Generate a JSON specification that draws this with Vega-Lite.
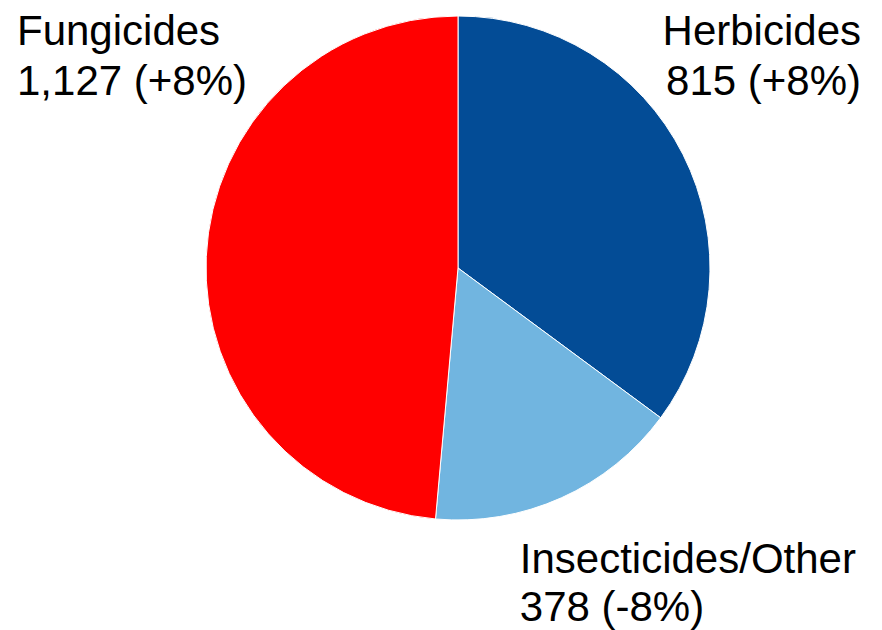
{
  "$schema": "https://vega.github.io/schema/vega-lite/v6.json",
  "width": 848,
  "height": 536,
  "autosize": {"type": "none"},
  "padding": {"left": 34, "top": 0, "right": 0, "bottom": 94},
  "background": "white",
  "data": {
    "values": [
      {"name": "Herbicides", "value": 815, "rank": 1, "label": "Herbicides\n815 (+8%)"},
      {"name": "Insecticides/Other", "value": 378, "rank": 2, "label": "Insecticides/Other\n378 (-8%)"},
      {"name": "Fungicides", "value": 1127, "rank": 3, "label": "Fungicides\n1,127 (+8%)"}
    ]
  },
  "transform": [
    {"stack": "value", "groupby": [], "sort": [{"field": "rank", "order": "ascending"}], "as": ["v0", "v1"]}
  ],
  "layer": [
    {
      "mark": {"type": "arc", "outerRadius": 252, "stroke": "white", "strokeWidth": 1},
      "encoding": {
        "theta": {"field": "v0", "type": "quantitative", "stack": null, "scale": {"domain": [0, 2320]}},
        "theta2": {"field": "v1"},
        "color": {
          "field": "name",
          "type": "nominal",
          "scale": {"domain": ["Herbicides", "Insecticides/Other", "Fungicides"], "range": ["#034C96", "#71B5E0", "#FF0000"]},
          "legend": null
        }
      }
    },
    {
      "transform": [{"filter": "datum.name === 'Herbicides'"}],
      "mark": {"type": "text", "radius": 223, "align": "right", "baseline": "alphabetic", "dx": 403, "dy": 0, "font": "Liberation Sans", "fontSize": 42, "lineHeight": 50, "lineBreak": "\n", "color": "black"},
      "encoding": {
        "theta": {"field": "v0", "type": "quantitative", "stack": null},
        "text": {"field": "label", "type": "nominal"}
      }
    },
    {
      "transform": [{"filter": "datum.name === 'Fungicides'"}],
      "mark": {"type": "text", "radius": 223, "align": "left", "baseline": "alphabetic", "dx": -441, "dy": 0, "font": "Liberation Sans", "fontSize": 42, "lineHeight": 50, "lineBreak": "\n", "color": "black"},
      "encoding": {
        "theta": {"field": "v1", "type": "quantitative", "stack": null},
        "text": {"field": "label", "type": "nominal"}
      }
    },
    {
      "transform": [{"filter": "datum.name === 'Insecticides/Other'"}],
      "mark": {"type": "text", "radius": 305, "align": "left", "baseline": "alphabetic", "dx": 89, "dy": 1, "font": "Liberation Sans", "fontSize": 42, "lineHeight": 48, "lineBreak": "\n", "color": "black"},
      "encoding": {
        "theta": {"field": "v1", "type": "quantitative", "stack": null},
        "text": {"field": "label", "type": "nominal"}
      }
    }
  ],
  "config": {"view": {"stroke": null}}
}
